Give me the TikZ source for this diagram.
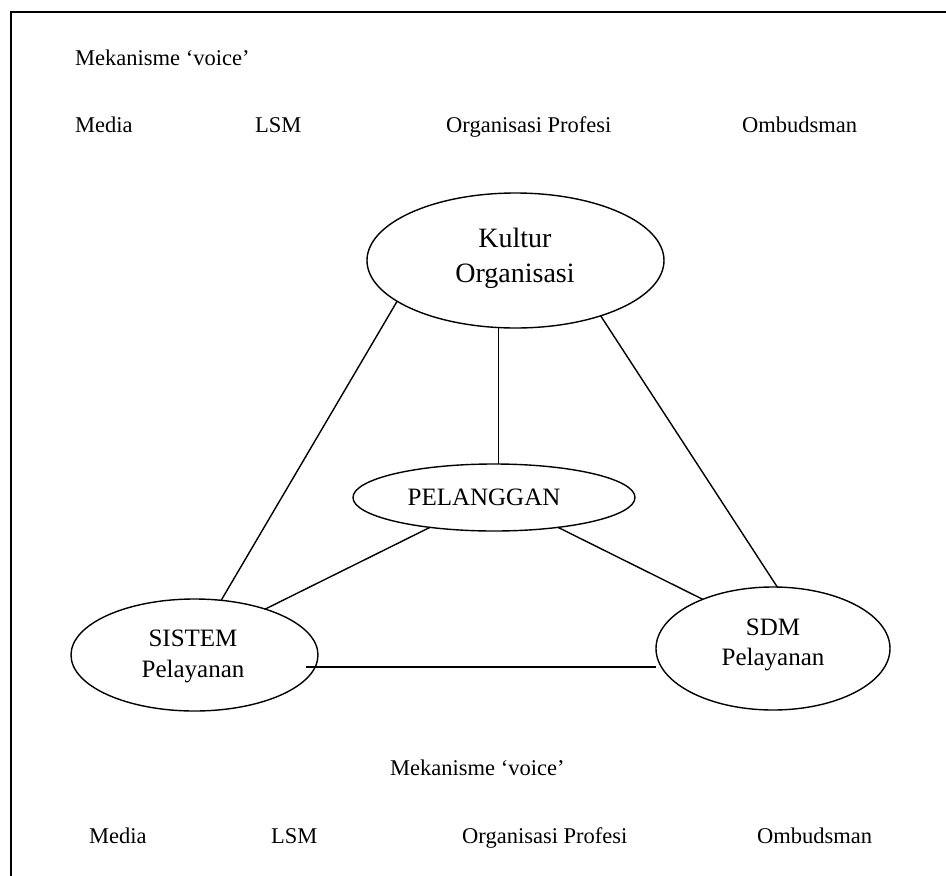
\documentclass[tikz,border=0pt]{standalone}
\usepackage{fontspec}
\setmainfont{Liberation Serif}
\usetikzlibrary{shapes.geometric,calc}
\begin{document}
\begin{tikzpicture}[x=1pt,y=-1pt,
  lbl/.style={inner sep=0pt,anchor=base west,font=\fontsize{22.5}{27}\selectfont},
  inl/.style={inner sep=0pt,anchor=base,font=\fontsize{25}{30}\selectfont},
  big/.style={inner sep=0pt,anchor=base,font=\fontsize{28}{34}\selectfont},
  oval/.style={draw,ellipse,line width=1.4pt,inner sep=0pt,outer sep=0pt},
  conn/.style={line width=1.4pt}]
\useasboundingbox (0,0) rectangle (946,876);
% frame
\coordinate (fbl) at (11,876);
\coordinate (ftl) at (11,12);
\coordinate (ftr) at (946,12);
\draw[line width=1.5pt] (fbl) -- (ftl) -- (ftr);

% top labels
\node[lbl] (mv1) at (75,65) {Mekanisme ‘voice’};
\node[lbl] (m1) at (75,132) {Media};
\node[lbl] (l1) at (255,132) {LSM};
\node[lbl] (o1) at (446,132) {Organisasi Profesi};
\node[lbl] (b1) at (742,132) {Ombudsman};

% bottom labels
\node[lbl] (mv2) at (390,775) {Mekanisme ‘voice’};
\node[lbl] (m2) at (89,843) {Media};
\node[lbl] (l2) at (271,843) {LSM};
\node[lbl] (o2) at (462,843) {Organisasi Profesi};
\node[lbl] (b2) at (757,843) {Ombudsman};

% ellipses
\node[oval,minimum width=297pt,minimum height=135pt] (kultur) at (515.5,260.5) {};
\node[oval,minimum width=282pt,minimum height=67pt] (pel) at (494,497.5) {};
\node[oval,minimum width=247pt,minimum height=112pt] (sis) at (194.5,655) {};
\node[oval,minimum width=234pt,minimum height=123pt] (sdm) at (773,648.5) {};

% ellipse texts
\node[big] (kt1) at (515,247) {Kultur};
\node[big] (kt2) at (515,282) {Organisasi};
\node[inl] (pt) at (484,505) {PELANGGAN};
\node[inl] (st1) at (193,646) {SISTEM};
\node[inl] (st2) at (193,677) {Pelayanan};
\node[inl] (dt1) at (773,635) {SDM};
\node[inl] (dt2) at (773,665) {Pelayanan};

% connectors
\draw[conn] (kultur.199.3) -- (sis.64.7);
\draw[conn] (kultur.256) -- (kultur.256 |- pel.north);
\draw[conn] (kultur.327.7) -- (sdm.86.3);
\draw[conn] (pel.205) -- (sis.33.5);
\draw[conn] (pel.335) -- (sdm.145.5);
\coordinate (hs) at ($(sis.center)+(111.5,12)$);
\draw[conn] (hs) -- (hs -| sdm.west);
\end{tikzpicture}
\end{document}
